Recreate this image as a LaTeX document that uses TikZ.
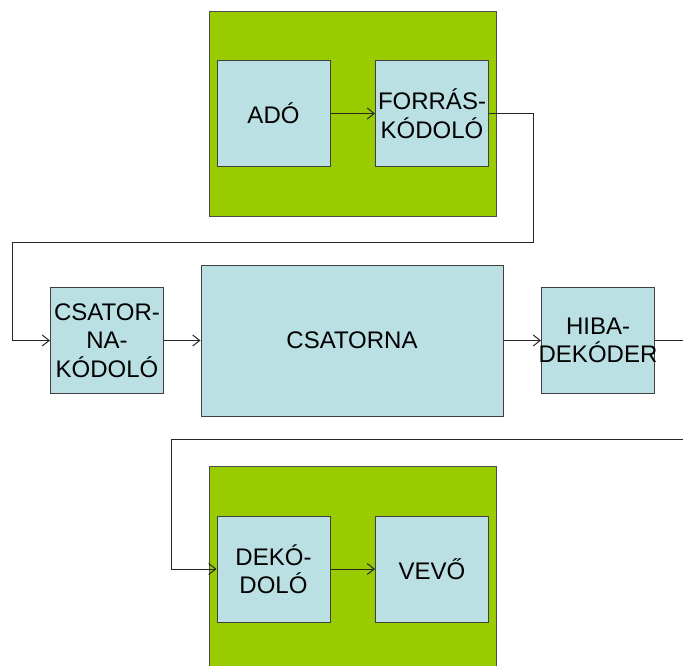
\documentclass[tikz,border=0pt]{standalone}
\usepackage{fontspec}
\setmainfont{Liberation Sans}
\usetikzlibrary{arrows.meta}
\definecolor{blockgreen}{HTML}{99CC00}
\definecolor{boxblue}{HTML}{BBE0E3}

\begin{document}
\begin{tikzpicture}[x=1pt, y=-1pt,
  blk/.style={draw=black!75, fill=boxblue, line width=1pt, minimum width=113pt,
              minimum height=106pt, inner sep=0pt, align=center,
              font=\fontsize{24}{28.5}\selectfont},
  grp/.style={draw=black!70, fill=blockgreen, line width=1pt, inner sep=0pt},
  arr/.style={-{Straight Barb[length=7pt,width=11pt]}, line width=1pt, black!85},
  ln/.style={line width=1pt, black!85},
]
\useasboundingbox (0,0) rectangle (683,666);
% Transmitter side
\node[grp, minimum width=287pt, minimum height=204pt] (adogrp) at (352.5,114) {};
\node[blk] (ado) at (273.5,113.5) {ADÓ};
\node[blk] (forras) at (432,113.5) {FORRÁS-\\KÓDOLÓ};
\draw[arr] (ado) -- (forras);
% Channel
\node[blk] (csatkod) at (107,340.5) {CSATOR-\\NA-\\KÓDOLÓ};
\node[blk, minimum width=302pt, minimum height=151pt] (csatorna) at (352,340.5) {CSATORNA};
\node[blk, inner xsep=-3pt] (hiba) at (598,340.5) {HIBA-\\DEKÓDER};
\draw[arr] (forras.east) -| ++(44,129) -| ([xshift=-38pt]csatkod.west) -- (csatkod.west);
\draw[arr] (csatkod) -- (csatorna);
\draw[arr] (csatorna) -- (hiba);
\coordinate (hibaout) at (683,340.5);
\draw[ln] (hiba.east) -- (hibaout);
% Receiver side
\node[grp, minimum width=287pt, minimum height=214pt] (vevogrp) at (352.5,573) {};
\node[blk] (dekod) at (273.5,569) {DEKÓ-\\DOLÓ};
\node[blk] (vevo) at (432,569) {VEVŐ};
\coordinate (dekodin) at (683,439);
\draw[arr] (dekodin) -| ([xshift=-45pt]dekod.west) -- (dekod.west);
\draw[arr] (dekod) -- (vevo);
\end{tikzpicture}
\end{document}
